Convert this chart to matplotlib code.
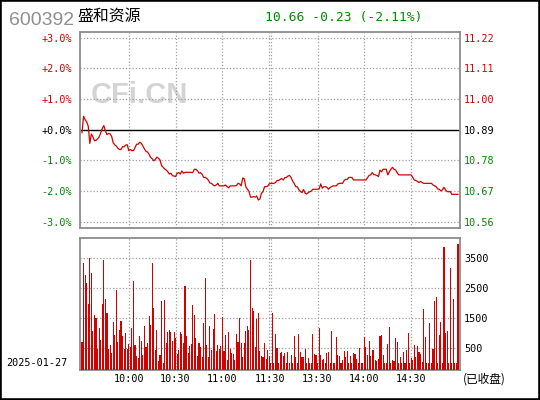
import matplotlib
matplotlib.use('Agg')
import matplotlib.pyplot as plt
from matplotlib.patches import Rectangle
import numpy as np

# ---------------- data ----------------
stock_code = "600392"
stock_name = "盛和资源"
trade_date = "2025-01-27"
status_text = "(已收盘)"
watermark = "CFi.CN"
prev_close = 10.89
last_price = 10.66
change = -0.23
change_pct = -2.11

time_tick_pos = [30, 60, 90, 120.5, 151, 181, 211]
time_labels = ["10:00", "10:30", "11:00", "11:30", "13:30", "14:00", "14:30"]
grid_minutes = [30, 60, 90, 120, 121, 151, 181, 211]
pct_ticks = [3, 2, 1, 0, -1, -2, -3]
vol_ticks = [500, 1500, 2500, 3500]

# minute prices 09:30-11:30, 13:00-15:00 (242 points)
price = [
    10.879, 10.937, 10.925, 10.917, 10.902, 10.841, 10.874, 10.864, 10.850, 10.852,
    10.857, 10.864, 10.878, 10.894, 10.904, 10.885, 10.872, 10.876, 10.875, 10.866,
    10.843, 10.836, 10.831, 10.824, 10.819, 10.819, 10.829, 10.829, 10.835, 10.836,
    10.815, 10.819, 10.815, 10.815, 10.826, 10.838, 10.838, 10.845, 10.841, 10.832,
    10.821, 10.813, 10.810, 10.802, 10.791, 10.786, 10.779, 10.784, 10.792, 10.788,
    10.782, 10.762, 10.756, 10.750, 10.746, 10.740, 10.732, 10.735, 10.726, 10.725,
    10.723, 10.735, 10.737, 10.732, 10.743, 10.735, 10.738, 10.738, 10.738, 10.738,
    10.738, 10.737, 10.749, 10.749, 10.744, 10.735, 10.737, 10.731, 10.720, 10.720,
    10.717, 10.710, 10.700, 10.699, 10.693, 10.690, 10.693, 10.699, 10.690, 10.690,
    10.690, 10.690, 10.693, 10.687, 10.683, 10.690, 10.690, 10.690, 10.690, 10.691,
    10.699, 10.697, 10.690, 10.718, 10.715, 10.687, 10.678, 10.671, 10.650, 10.650,
    10.652, 10.650, 10.654, 10.640, 10.643, 10.664, 10.669, 10.687, 10.687, 10.689,
    10.697, 10.699, 10.699, 10.699, 10.702, 10.709, 10.709, 10.713, 10.716, 10.711,
    10.719, 10.720, 10.725, 10.727, 10.720, 10.707, 10.699, 10.687, 10.687, 10.676,
    10.670, 10.666, 10.677, 10.664, 10.661, 10.666, 10.669, 10.672, 10.678, 10.678,
    10.678, 10.678, 10.679, 10.697, 10.682, 10.687, 10.687, 10.685, 10.678, 10.684,
    10.687, 10.690, 10.690, 10.690, 10.697, 10.699, 10.699, 10.699, 10.709, 10.713,
    10.713, 10.720, 10.720, 10.720, 10.711, 10.711, 10.711, 10.711, 10.711, 10.711,
    10.711, 10.711, 10.711, 10.719, 10.727, 10.729, 10.737, 10.730, 10.729, 10.727,
    10.723, 10.746, 10.740, 10.749, 10.749, 10.749, 10.729, 10.740, 10.749, 10.756,
    10.749, 10.746, 10.737, 10.729, 10.729, 10.729, 10.729, 10.729, 10.729, 10.729,
    10.729, 10.729, 10.720, 10.711, 10.709, 10.706, 10.702, 10.706, 10.702, 10.699,
    10.699, 10.699, 10.699, 10.699, 10.699, 10.693, 10.690, 10.687, 10.679, 10.678,
    10.672, 10.676, 10.685, 10.676, 10.670, 10.669, 10.670, 10.660, 10.660, 10.660,
    10.660, 10.660,
]

volume = [
    711, 3333, 2933, 2678, 1967, 3500, 3011, 1078, 1611, 1522,
    478, 1178, 778, 1967, 3444, 2144, 1678, 478, 611, 344,
    1378, 944, 2444, 711, 1111, 1411, 911, 478, 1011, 478,
    644, 544, 1178, 2744, 611, 244, 178, 911, 744, 278,
    1244, 544, 678, 1578, 1278, 3344, 1844, 444, 1111, 78,
    278, 2078, 0, 2111, 678, 1044, 1111, 1044, 744, 1044,
    844, 311, 444, 1044, 978, 678, 2578, 911, 344, 578,
    644, 1944, 1611, 844, 244, 678, 544, 211, 1344, 2844,
    611, 211, 1244, 444, 1144, 1644, 411, 611, 478, 578,
    1544, 411, 944, 111, 1044, 478, 344, 311, 111, 978,
    711, 1511, 678, 211, 678, 1078, 1244, 1111, 3444, 1844,
    1744, 544, 1478, 1678, 411, 244, 211, 678, 144, 444,
    244, 0, 1678, 0, 978, 511, 0, 344, 378, 244,
    344, 0, 378, 0, 278, 0, 911, 211, 0, 978,
    378, 211, 211, 478, 0, 178, 0, 0, 978, 311,
    278, 0, 1178, 278, 111, 144, 0, 344, 378, 0,
    1078, 0, 0, 878, 278, 244, 0, 111, 411, 211,
    411, 0, 244, 0, 344, 311, 144, 0, 511, 0,
    0, 878, 544, 278, 744, 244, 444, 444, 111, 78,
    144, 911, 944, 278, 0, 0, 644, 1211, 0, 111,
    78, 844, 711, 0, 211, 0, 378, 0, 444, 1011,
    0, 178, 111, 611, 211, 578, 378, 311, 44, 1811,
    878, 0, 0, 1344, 0, 478, 2078, 2211, 0, 944,
    1378, 0, 3878, 1011, 1078, 0, 3178, 0, 2144, 0,
    0, 3978,
]

# ---------------- styling ----------------
RED = '#d40000'
GREEN = '#008a00'
BORDER = '#8c8c8c'
GRID = '#a0a0a0'
MONO = 'DejaVu Sans Mono'
CJK = ['Noto Sans CJK SC', 'DejaVu Sans']
W, H = 540, 400


def fx(x):
    return x / W


def fy(y):
    return 1 - y / H


fig = plt.figure(figsize=(W / 100, H / 100), dpi=100)
fig.patch.set_facecolor('white')

x = np.arange(len(price))
pct = (np.array(price) / prev_close - 1) * 100
xlo, xhi = -1.28, len(price) - 1 + 1.28

# ---------------- price panel ----------------
ax = fig.add_axes([fx(80), fy(228), fx(380), 196 / H])
ax.set_xlim(xlo, xhi)
ax.set_ylim(-3.21, 3.18)
for s in ax.spines.values():
    s.set_color(BORDER)
    s.set_linewidth(1.3)
for g in grid_minutes:
    ax.axvline(g, color=GRID, lw=0.9, ls=(0, (1, 1.6)), zorder=1)
for p in pct_ticks:
    if p == 0:
        ax.axhline(0, color='black', lw=1.0, zorder=2)
    else:
        ax.axhline(p, color=GRID, lw=0.9, ls=(0, (1, 1.6)), zorder=1)
ax.plot(x, pct, color=RED, lw=0.9, zorder=3)
ax.set_xticks([])
ax.set_yticks(pct_ticks)
ax.set_yticklabels([f"{p:+.1f}%" for p in pct_ticks], fontfamily=MONO, fontsize=7.3)
ax.tick_params(axis='y', length=0, pad=5.8)
for lab, p in zip(ax.get_yticklabels(), pct_ticks):
    lab.set_color(RED if p > 0 else ('black' if p == 0 else GREEN))

axr = ax.twinx()
axr.set_ylim(prev_close * (1 - 3.21 / 100), prev_close * (1 + 3.18 / 100))
rticks = [prev_close * (1 + p / 100) for p in pct_ticks]
axr.set_yticks(rticks)
axr.set_yticklabels([f"{v:.2f}" for v in rticks], fontfamily=MONO, fontsize=7.3)
axr.tick_params(axis='y', length=0, pad=2.4)
for lab, p in zip(axr.get_yticklabels(), pct_ticks):
    lab.set_color(RED if p > 0 else ('black' if p == 0 else GREEN))
for s in axr.spines.values():
    s.set_visible(False)

ax.text(0.027, 0.68, watermark, transform=ax.transAxes, fontsize=21,
        fontweight='bold', family='Liberation Sans', color='#d4d4d4',
        ha='left', va='center', zorder=0)

# ---------------- volume panel ----------------
vol_floor, vol_top = -200, 4170
av = fig.add_axes([fx(80), fy(369.5), fx(380), 131.2 / H])
av.set_xlim(xlo, xhi)
av.set_ylim(vol_floor, vol_top)
for s in av.spines.values():
    s.set_color(BORDER)
    s.set_linewidth(1.3)
for g in grid_minutes:
    av.axvline(g, color=GRID, lw=0.9, ls=(0, (1, 1.6)), zorder=1)
for v in vol_ticks:
    av.axhline(v, color=GRID, lw=0.9, ls=(0, (1, 1.6)), zorder=1)
vol = np.array(volume, dtype=float)
av.bar(x, vol - vol_floor, bottom=vol_floor, width=0.7, color=RED,
       linewidth=0, antialiased=False, zorder=3)
av.yaxis.tick_right()
av.set_yticks(vol_ticks)
av.set_yticklabels([str(v) for v in vol_ticks], fontfamily=MONO, fontsize=7.3)
av.tick_params(axis='y', length=0, pad=3.0)
av.set_xticks(time_tick_pos)
av.set_xticklabels(time_labels, fontfamily=MONO, fontsize=7.3)
av.tick_params(axis='x', length=0, pad=3.2)

# ---------------- header / labels ----------------
fig.text(fx(8.5), fy(24.8), stock_code, family='Liberation Sans', fontsize=14,
         color='#8f8f8f', ha='left', va='baseline')
fig.text(fx(77.5), fy(21.2), stock_name, family=CJK, fontsize=11.4,
         color='black', ha='left', va='baseline')
fig.text(fx(265), fy(20.6), f"{last_price:.2f} {change:+.2f} ({change_pct:+.2f}%)",
         family=MONO, fontsize=9.4, color=GREEN, ha='left', va='baseline')
fig.text(fx(6.5), fy(363), trade_date, family=MONO, fontsize=7.3,
         color='black', ha='left', va='center')
fig.text(fx(463), fy(379), status_text, family=CJK, fontsize=8.4,
         color='black', ha='left', va='center')

fig.patches.append(Rectangle((0, 0), 1, 1, transform=fig.transFigure,
                             fill=False, edgecolor='black', lw=2.6, zorder=10))

fig.savefig('out.png', dpi=100, facecolor='white')
